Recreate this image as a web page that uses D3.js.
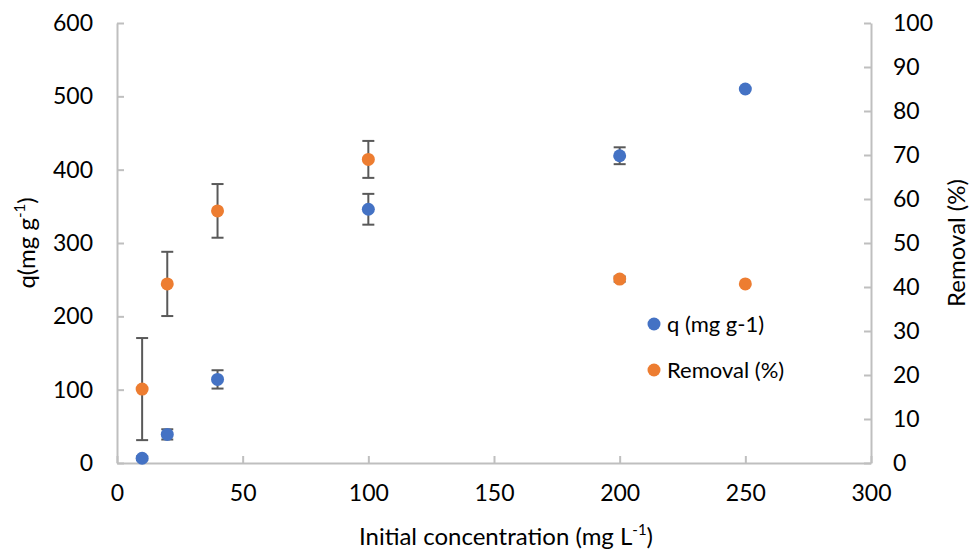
<!DOCTYPE html>
<html>
<head>
<meta charset="utf-8">
<script src="https://cdn.jsdelivr.net/npm/d3@7"></script>
<style>
  body { margin: 0; background: #fff; }
  text { font-family: Lato, "Open Sans", sans-serif; fill: #000; }
</style>
</head>
<body>
<svg id="chart" width="972" height="549"></svg>
<script>
// donnees
const concentrations = [10, 20, 40, 100, 200, 250];
const qValues = [6.5, 39, 114, 346, 419, 510];
const qErrors = [2.5, 7, 12.5, 21, 11.5, 0];
const removalValues = [16.8, 40.7, 57.3, 69, 41.8, 40.7];
const removalErrors = [11.6, 7.3, 6.1, 4.2, 0.6, 0];
const xTicks = [0, 50, 100, 150, 200, 250, 300];
const yLeftTicks = [0, 100, 200, 300, 400, 500, 600];
const yRightTicks = [0, 10, 20, 30, 40, 50, 60, 70, 80, 90, 100];

const svg = d3.select("#chart");
const gauche = 117, droite = 871, haut = 23, bas = 463;

const x = d3.scaleLinear().domain([0, 300]).range([gauche, droite]);
const yL = d3.scaleLinear().domain([0, 600]).range([bas, haut]);
const yR = d3.scaleLinear().domain([0, 100]).range([bas, haut]);

const axeCouleur = "#bfbfbf";

//------------------- axes -------------------
function styleAxe(g) {
    g.selectAll(".domain").attr("stroke", axeCouleur).attr("stroke-width", 2);
    g.selectAll(".tick line").attr("stroke", axeCouleur).attr("stroke-width", 2);
    g.selectAll(".tick text").style("font-size", "23px").attr("fill", "#000");
}

svg.append("g")
    .attr("transform", "translate(0," + bas + ")")
    .call(d3.axisBottom(x).tickValues(xTicks).tickSizeInner(-7).tickSizeOuter(0).tickPadding(22))
    .call(styleAxe);

svg.append("g")
    .attr("transform", "translate(" + gauche + ",0)")
    .call(d3.axisLeft(yL).tickValues(yLeftTicks).tickSizeInner(-7).tickSizeOuter(0).tickPadding(24))
    .call(styleAxe);

svg.append("g")
    .attr("transform", "translate(" + droite + ",0)")
    .call(d3.axisRight(yR).tickValues(yRightTicks).tickSizeInner(-7).tickSizeOuter(0).tickPadding(22))
    .call(styleAxe);

//------------------- barres d'erreur -------------------
function barresErreur(valeurs, erreurs, y) {
    const g = svg.append("g").attr("stroke", "#595959").attr("stroke-width", 2);
    concentrations.forEach((c, i) => {
        if (!erreurs[i]) return;
        const cx = x(c);
        const y1 = y(valeurs[i] - erreurs[i]);
        const y2 = y(valeurs[i] + erreurs[i]);
        g.append("line").attr("x1", cx).attr("x2", cx).attr("y1", y1).attr("y2", y2);
        g.append("line").attr("x1", cx - 6).attr("x2", cx + 6).attr("y1", y1).attr("y2", y1);
        g.append("line").attr("x1", cx - 6).attr("x2", cx + 6).attr("y1", y2).attr("y2", y2);
    });
}
barresErreur(qValues, qErrors, yL);
barresErreur(removalValues, removalErrors, yR);

//------------------- points -------------------
svg.append("g").selectAll("circle")
    .data(concentrations)
    .enter().append("circle")
    .attr("cx", d => x(d))
    .attr("cy", (d, i) => yL(qValues[i]))
    .attr("r", 6.5)
    .attr("fill", "#4472C4");

svg.append("g").selectAll("circle")
    .data(concentrations)
    .enter().append("circle")
    .attr("cx", d => x(d))
    .attr("cy", (d, i) => yR(removalValues[i]))
    .attr("r", 6.5)
    .attr("fill", "#ED7D31");

//------------------- titres -------------------
const titreX = svg.append("text")
    .attr("x", 506).attr("y", 545)
    .attr("text-anchor", "middle")
    .style("font-size", "24px");
titreX.append("tspan").text("Initial concentration (mg L");
titreX.append("tspan").attr("dy", -10).style("font-size", "15px").text("-1");
titreX.append("tspan").attr("dy", 10).text(")");

const titreY = svg.append("text")
    .attr("transform", "translate(35,243) rotate(-90)")
    .attr("text-anchor", "middle")
    .style("font-size", "24px");
titreY.append("tspan").text("q(mg g");
titreY.append("tspan").attr("dy", -10).style("font-size", "15px").text("-1");
titreY.append("tspan").attr("dy", 10).text(")");

svg.append("text")
    .attr("transform", "translate(965,243) rotate(-90)")
    .attr("text-anchor", "middle")
    .style("font-size", "24px")
    .text("Removal (%)");

//------------------- legende -------------------
const legende = [
    { label: "q (mg g-1)", couleur: "#4472C4", y: 324 },
    { label: "Removal (%)", couleur: "#ED7D31", y: 370 }
];
legende.forEach(l => {
    svg.append("circle").attr("cx", 654).attr("cy", l.y).attr("r", 6.5).attr("fill", l.couleur);
    svg.append("text").attr("x", 667).attr("y", l.y).attr("dy", "0.35em")
        .style("font-size", "22px").text(l.label);
});
</script>
</body>
</html>
